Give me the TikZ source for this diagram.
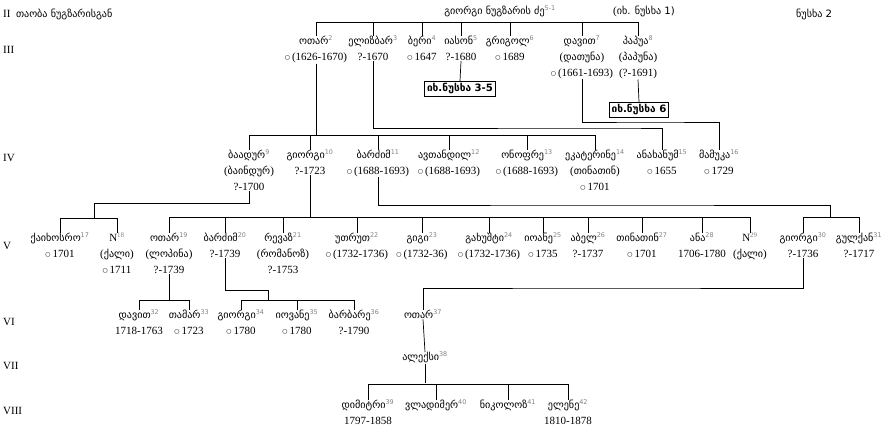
\documentclass[tikz,border=0pt]{standalone}
\usepackage{fontspec}
\setmainfont{Liberation Serif}
\newfontfamily\geo{DejaVu Sans}[Scale=0.92]
\newfontfamily\symf{DejaVu Sans}
\newcommand\ix[1]{\textsuperscript{\textcolor{gray}{\scriptsize #1}}}
\newcommand\dg{\raisebox{1pt}{\symf\fontsize{6}{6}\selectfont ○}\,}
\begin{document}
\begin{tikzpicture}[x=1pt,y=-1pt,
  p/.style={anchor=north,align=center,inner sep=0pt,font=\fontsize{11}{16}\selectfont},
  lvl/.style={anchor=west,inner sep=0pt,font=\fontsize{11}{12}\selectfont},
  bx/.style={draw,thick,inner sep=2.5pt,font=\geo\bfseries\fontsize{11}{12}\selectfont},
  ln/.style={line width=0.7pt}]
\useasboundingbox (0,0) rectangle (896,440);
% level labels
\node[lvl] (l2) at (3,14) {II \ {\geo თაობა ნუგზარისგან}};
\node[lvl] (l3) at (3,50) {III};
\node[lvl] (l4) at (3,158) {IV};
\node[lvl] (l5) at (3,246) {V};
\node[lvl] (l6) at (3,322) {VI};
\node[lvl] (l7) at (3,366) {VII};
\node[lvl] (l8) at (3,411) {VIII};
\node[lvl] (nus) at (796,14) {\geo ნუსხა 2};
% root
\node[p] (r) at (500,6) {\geo გიორგი ნუგზარის ძე\ix{5-1}};
\node[p] (r1) at (644,6) {(\geo იხ. ნუსხა\ 1)};
% III
\node[p] (n2) at (316,36) {\geo ოთარ\ix2\\\dg(1626-1670)};
\node[p] (n3) at (373,36) {\geo ელიზბარ\ix3\\?-1670};
\node[p] (n4) at (422,36) {\geo ბერი\ix4\\\dg1647};
\node[p] (n5) at (461,36) {\geo იასონ\ix5\\?-1680};
\node[p] (n6) at (510,36) {\geo გრიგოლ\ix6\\\dg1689};
\node[p] (n7) at (582,36) {\geo დავით\ix7\\({\geo დათუნა})\\\dg(1661-1693)};
\node[p] (n8) at (638,36) {\geo პაპუა\ix8\\({\geo პაპუნა})\\(?-1691)};
\node[bx] (b35) at (460,89) {იხ.ნუსხა 3-5};
\node[bx] (b6) at (639,110) {იხ.ნუსხა 6};
% IV
\node[p] (n9) at (249,150) {\geo ბაადურ\ix9\\({\geo ბაინდურ})\\?-1700};
\node[p] (n10) at (310,150) {\geo გიორგი\ix{10}\\?-1723};
\node[p] (n11) at (378,150) {\geo ბარძიმ\ix{11}\\\dg(1688-1693)};
\node[p] (n12) at (449,150) {\geo ავთანდილ\ix{12}\\\dg(1688-1693)};
\node[p] (n13) at (527,150) {\geo ონოფრე\ix{13}\\\dg(1688-1693)};
\node[p] (n14) at (595,150) {\geo ეკატერინე\ix{14}\\({\geo თინათინ})\\\dg1701};
\node[p] (n15) at (662,150) {\geo ანახანუმ\ix{15}\\\dg1655};
\node[p] (n16) at (719,150) {\geo მამუკა\ix{16}\\\dg1729};
% V
\node[p] (n17) at (60,233) {\geo ქაიხოსრო\ix{17}\\\dg1701};
\node[p] (n18) at (117,233) {N\ix{18}\\({\geo ქალი})\\\dg1711};
\node[p] (n19) at (169,233) {\geo ოთარ\ix{19}\\({\geo ლოპინა})\\?-1739};
\node[p] (n20) at (225,233) {\geo ბარძიმ\ix{20}\\?-1739};
\node[p] (n21) at (283,233) {\geo რევაზ\ix{21}\\({\geo რომანოზ})\\?-1753};
\node[p] (n22) at (357,233) {\geo უთრუთ\ix{22}\\\dg(1732-1736)};
\node[p] (n23) at (422,233) {\geo გიგი\ix{23}\\\dg(1732-36)};
\node[p] (n24) at (489,233) {\geo გახუშტი\ix{24}\\\dg(1732-1736)};
\node[p] (n25) at (543,233) {\geo იოანე\ix{25}\\\dg1735};
\node[p] (n26) at (588,233) {\geo აბელ\ix{26}\\?-1737};
\node[p] (n27) at (642,233) {\geo თინათინ\ix{27}\\\dg1701};
\node[p] (n28) at (702,233) {\geo ანა\ix{28}\\1706-1780};
\node[p] (n29) at (750,233) {N\ix{29}\\({\geo ქალი})};
\node[p] (n30) at (803,233) {\geo გიორგი\ix{30}\\?-1736};
\node[p] (n31) at (859,233) {\geo გულქან\ix{31}\\?-1717};
% VI
\node[p] (n32) at (139,310) {\geo დავით\ix{32}\\1718-1763};
\node[p] (n33) at (189,310) {\geo თამარ\ix{33}\\\dg1723};
\node[p] (n34) at (241,310) {\geo გიორგი\ix{34}\\\dg1780};
\node[p] (n35) at (297,310) {\geo იოვანე\ix{35}\\\dg1780};
\node[p] (n36) at (354,310) {\geo ბარბარე\ix{36}\\?-1790};
\node[p] (n37) at (423,310) {\geo ოთარ\ix{37}};
% VII
\node[p] (n38) at (425,352) {\geo ალექსი\ix{38}};
% VIII
\node[p] (n39) at (368,400) {\geo დიმიტრი\ix{39}\\1797-1858};
\node[p] (n40) at (436,400) {\geo ვლადიმერ\ix{40}};
\node[p] (n41) at (508,400) {\geo ნიკოლოზ\ix{41}};
\node[p] (n42) at (568,400) {\geo ელენე\ix{42}\\1810-1878};
% connectors
\begin{scope}[ln]
\draw (n2.north) -- ++(0,-14) -| (n8.north);
\foreach \n in {n3,n4,n5,n6,n7} \draw (\n.north) -- ++(0,-14);
\draw (n5.south) -- (b35.north);
\draw (n8.south) -- (b6.north);
\draw (n2.south) -- (n2.south |- 0,135);
\draw (n9.north) -- ++(0,-15) -| (n14.north);
\foreach \n in {n10,n11,n12,n13} \draw (\n.north) -- ++(0,-15);
\draw (n3.south) |- (620,128) -| (n15.north);
\draw (n7.south) |- (650,122) -| (n16.north);
\draw (n9.south) |- (94,203) -- (94,218);
\draw (n17.north) -- ++(0,-15) -| (n18.north);
\draw (n10.south) -- (310,217);
\draw (n19.north) -- ++(0,-16) -| (n29.north);
\foreach \n in {n20,n21,n22,n23,n24,n25,n26,n27,n28} \draw (\n.north) -- ++(0,-16);
\draw (n11.south) |- (600,205) -- (830,205) -- (830,217);
\draw (n30.north) -- ++(0,-16) -| (n31.north);
\draw (n19.south) -- (169,300);
\draw (n32.north) -- ++(0,-10) -| (n33.north);
\draw (n20.south) |- (268,290) -- (268,300);
\draw (n34.north) -- ++(0,-10) -| (n36.north);
\draw (n35.north) -- ++(0,-10);
\draw (n30.south) |- (600,288) -| (n37.north);
\draw (n37.south) -- (n38.north);
\draw (n38.south) -- (n38.south |- 0,383);
\draw (n39.north) -- ++(0,-16) -| (n42.north);
\foreach \n in {n40,n41} \draw (\n.north) -- ++(0,-16);
\end{scope}
\end{tikzpicture}
\end{document}
